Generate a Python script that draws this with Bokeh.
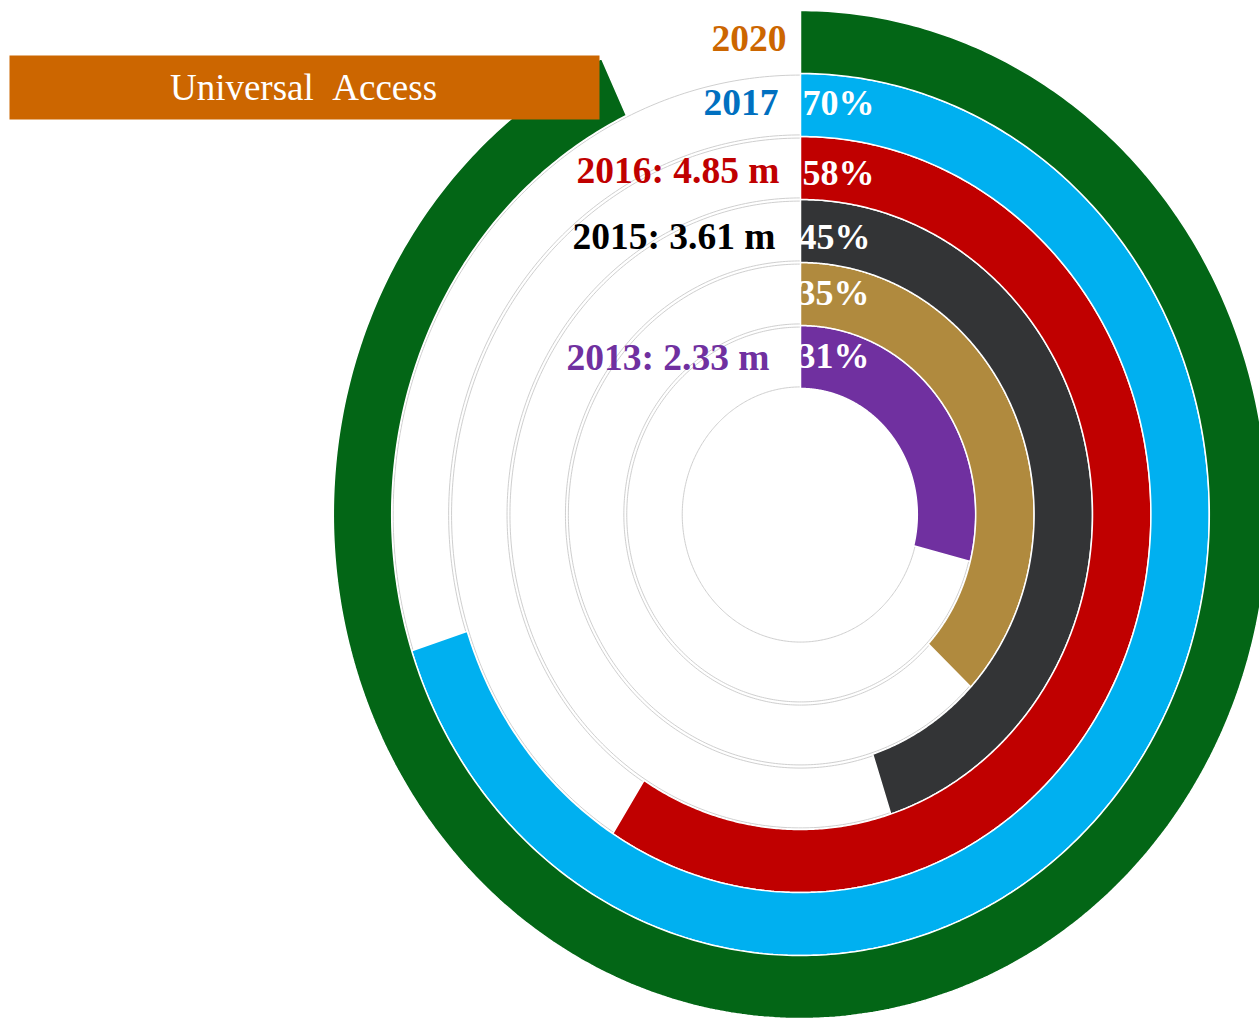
import numpy as np
from bokeh.plotting import figure
from bokeh.models import Range1d, ColumnDataSource
from bokeh.core.properties import value
from bokeh.embed import file_html
from bokeh.resources import INLINE

# ---------------- data (inner ring -> outer ring) ----------------
rings = ["2013", "2014", "2015", "2016", "2017", "2020"]
values = [29, 37, 45, 59, 70, 93]            # drawn arc length, % of full circle
year_labels = ["2013: 2.33 m", "", "2015: 3.61 m", "2016: 4.85 m", "2017", "2020"]
pct_labels = ["31%", "35%", "45%", "58%", "70%", ""]
ring_colors = ["#7030A0", "#B08A3E", "#333436", "#C00000", "#00B0F0", "#036616"]
year_colors = ["#7030A0", "#FFFFFF", "#000000", "#C00000", "#0070C0", "#CC6600"]
title_text = "Universal \u00a0Access"

# ---------------- geometry / style ----------------
W, H = 1259, 1020
CX, CY = 800.0, 514.0          # pixel position of the centre
SX, SY = 58.4, 63.0            # pixels per radial unit (x, y)
R0 = 2.0                       # inner radius of first ring
RW = 1.0                       # ring width

def px_to_x(px):
    return (px - CX) / SX

def py_to_y(py):
    return (CY - py) / SY

p = figure(width=W, height=H, output_backend="svg", toolbar_location=None,
           x_range=Range1d(px_to_x(0), px_to_x(W)),
           y_range=Range1d(py_to_y(H), py_to_y(0)),
           x_axis_location=None, y_axis_location=None, min_border=0)
p.grid.visible = False
p.outline_line_color = None
p.background_fill_color = "white"
p.border_fill_color = "white"


def arc_poly(r_in, r_out, frac, n=500):
    th = np.linspace(0.0, 2 * np.pi * frac, n)
    xs = np.concatenate([r_out * np.sin(th), r_in * np.sin(th[::-1])])
    ys = np.concatenate([r_out * np.cos(th), r_in * np.cos(th[::-1])])
    return list(xs), list(ys)

# background tracks (all rings except the outermost target ring)
tx, ty = [], []
for i in range(len(rings) - 1):
    r_in = R0 + i * RW
    xs, ys = arc_poly(r_in + 0.025, r_in + RW - 0.025, 1.0)
    tx.append(xs)
    ty.append(ys)
p.patches(tx, ty, fill_color="white", line_color="#cfcfcf", line_width=1)

# coloured progress segments
sx, sy = [], []
for i, v in enumerate(values):
    r_in = R0 + i * RW
    xs, ys = arc_poly(r_in, r_in + RW, v / 100.0)
    sx.append(xs)
    sy.append(ys)
p.patches(sx, sy, fill_color=ring_colors, line_color="white", line_width=1.5)

mids = [R0 + (i + 0.5) * RW for i in range(len(rings))]

# year labels (left of the vertical line)
yl_xoff = [-31, -25, -25, -21, -22, -14]
yl_yoff = [0, 0, 5.5, 2.5, -2.5, -3.5]
src_y = ColumnDataSource(dict(x=[0.0] * len(rings), y=mids, text=year_labels,
                              color=year_colors, xo=yl_xoff, yo=yl_yoff))
p.text(x="x", y="y", text="text", source=src_y, text_color="color",
       x_offset="xo", y_offset="yo", text_align="right", text_baseline="middle",
       text_font=value("Liberation Serif"), text_font_style="bold",
       text_font_size="37.5px")

# percentage labels (right of the vertical line)
pl_xoff = [-3, -3, -2, 2, 2, 0]
pl_yoff = [-1.5, -1.5, 6, 4.5, -2, 0]
src_p = ColumnDataSource(dict(x=[0.0] * len(rings), y=mids, text=pct_labels,
                              xo=pl_xoff, yo=pl_yoff))
p.text(x="x", y="y", text="text", source=src_p, text_color="white",
       x_offset="xo", y_offset="yo", text_align="left", text_baseline="middle",
       text_font=value("Liberation Serif"), text_font_style="bold",
       text_font_size="36px")

# title banner
p.quad(left=[px_to_x(9)], right=[px_to_x(599)], top=[py_to_y(55)], bottom=[py_to_y(119)],
       fill_color="#CC6600", line_color=None)
p.text(x=[px_to_x(303)], y=[py_to_y(87)], text=[title_text], text_color="white",
       text_align="center", text_baseline="middle",
       text_font=value("Liberation Serif"), text_font_size="37px")

open("out.html", "w").write(file_html(p, INLINE))
